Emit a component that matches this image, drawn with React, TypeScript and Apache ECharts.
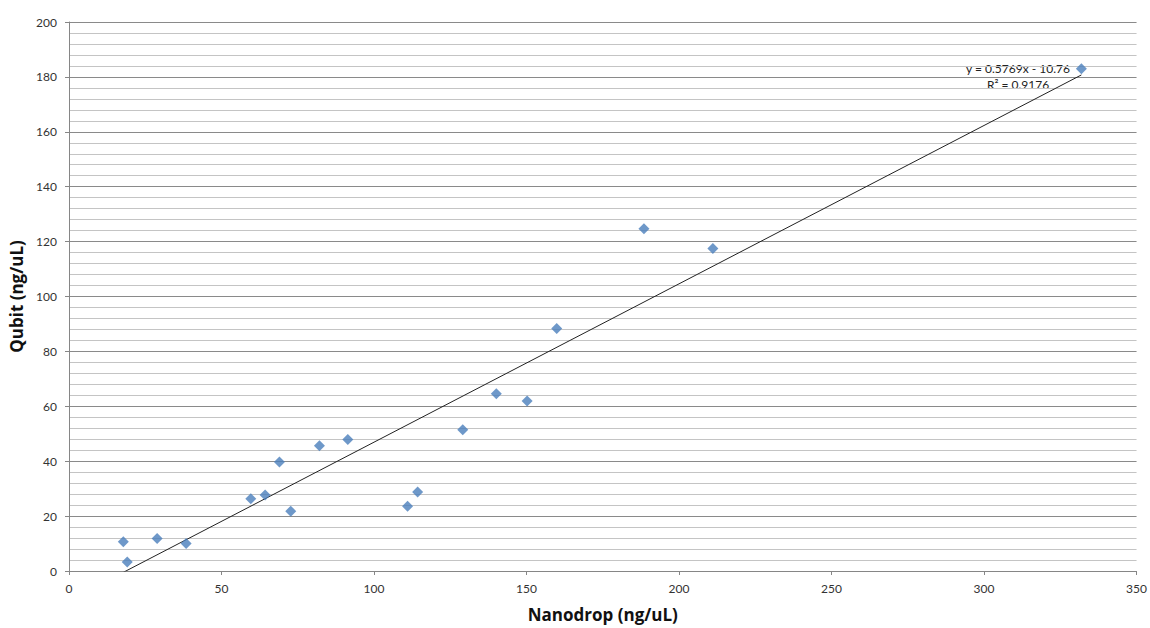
import React, { useEffect, useRef } from "react";
import * as echarts from "echarts";

const nanodrop = [17.8, 19.1, 28.9, 38.4, 59.6, 64.3, 69.0, 72.7, 82.1, 91.4, 111.0, 114.3, 129.1, 140.1, 150.2, 159.9, 188.5, 211.1, 331.9];
const qubit = [10.7, 3.3, 11.8, 10.0, 26.3, 27.7, 39.7, 21.8, 45.6, 47.9, 23.6, 28.8, 51.5, 64.6, 61.9, 88.3, 124.7, 117.5, 183.0];
const slope = 0.5769;
const intercept = -10.76;
const rSquared = 0.9176;
const xTicks = { min: 0, max: 350, interval: 50 };
const yTicks = { min: 0, max: 200, interval: 20 };

const FONT = "Lato, 'Open Sans', sans-serif";
const TITLE_FONT = "'Open Sans', sans-serif";

export default function App() {
  const ref = useRef<HTMLDivElement>(null);
  useEffect(() => {
    if (!ref.current) return;
    const chart = echarts.init(ref.current, undefined, { renderer: "svg" });
    const points = nanodrop.map((x, i) => [x, qubit[i]]);
    const xMin = Math.min(...nanodrop);
    const xMax = Math.max(...nanodrop);
    const trend = [
      [xMin, slope * xMin + intercept],
      [xMax, slope * xMax + intercept],
    ];
    chart.setOption({
      animation: false,
      backgroundColor: "#ffffff",
      grid: { left: 69, right: 11, top: 22, bottom: 54, containLabel: false },
      xAxis: {
        type: "value",
        min: xTicks.min,
        max: xTicks.max,
        interval: xTicks.interval,
        name: "Nanodrop (ng/uL)",
        nameLocation: "middle",
        nameGap: 35,
        nameTextStyle: { fontFamily: TITLE_FONT, fontSize: 17, fontWeight: "bold", color: "#111" },
        axisLine: { show: true, lineStyle: { color: "#868686", width: 1 } },
        axisTick: { show: true, length: 4, lineStyle: { color: "#868686" } },
        axisLabel: { fontFamily: FONT, fontSize: 12, color: "#333", margin: 11 },
        splitLine: { show: false },
      },
      yAxis: {
        type: "value",
        min: yTicks.min,
        max: yTicks.max,
        interval: yTicks.interval,
        name: "Qubit (ng/uL)",
        nameLocation: "middle",
        nameGap: 44,
        nameTextStyle: { fontFamily: TITLE_FONT, fontSize: 17, fontWeight: "bold", color: "#111" },
        axisLine: { show: true, lineStyle: { color: "#868686", width: 1 } },
        axisTick: { show: true, length: 4, lineStyle: { color: "#868686" } },
        axisLabel: { fontFamily: FONT, fontSize: 12, color: "#333", margin: 12 },
        splitLine: { show: true, lineStyle: { color: "#8a8a8a", width: 1 } },
        minorTick: { show: false, splitNumber: 5 },
        minorSplitLine: { show: true, lineStyle: { color: "#c4c4c4", width: 1 } },
      },
      series: [
        {
          type: "scatter",
          data: points,
          symbol: "diamond",
          symbolSize: 11,
          itemStyle: { color: "#4a7ebb" },
          z: 3,
        },
        {
          type: "line",
          data: trend,
          showSymbol: false,
          symbol: "none",
          lineStyle: { color: "#222", width: 1 },
          clip: true,
          z: 2,
        },
      ],
      graphic: [
        {
          type: "text",
          x: 1018,
          y: 68,
          style: {
            text: `y = ${slope}x - ${Math.abs(intercept)}`,
            fontFamily: FONT,
            fontSize: 12,
            fill: "#222",
            align: "center",
            verticalAlign: "middle",
            backgroundColor: "#fff",
          },
        },
        {
          type: "text",
          x: 1018,
          y: 84,
          style: {
            text: `R² = ${rSquared}`,
            fontFamily: FONT,
            fontSize: 12,
            fill: "#222",
            align: "center",
            verticalAlign: "middle",
            backgroundColor: "#fff",
          },
        },
      ],
    });
    return () => chart.dispose();
  }, []);
  return (
    <div
      ref={ref}
      style={{ position: "fixed", left: 0, top: 0, width: 1150, height: 628 }}
    />
  );
}
